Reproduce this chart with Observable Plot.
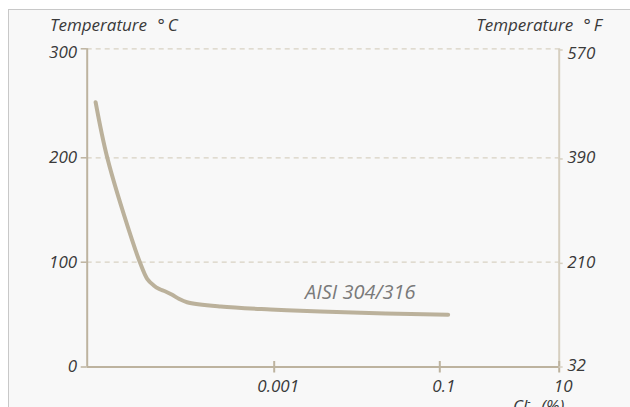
<!DOCTYPE html>
<html><head><meta charset="utf-8">
<script src="https://cdn.jsdelivr.net/npm/d3@7"></script>
<script src="https://cdn.jsdelivr.net/npm/@observablehq/plot@0.6"></script>
<style>
body{margin:0;background:#fff;}
#wrap{position:relative;width:630px;height:407px;overflow:hidden;}
#panel{position:absolute;left:8px;top:9px;width:700px;height:500px;border-left:1px solid #c8c8c8;border-top:1px solid #c8c8c8;background:#f8f8f8;}
#chart{position:absolute;left:0;top:0;}
.lbl{position:absolute;font-family:"Open Sans";font-style:italic;font-size:17px;color:#3a3a3a;white-space:nowrap;line-height:17px;word-spacing:6px;}
.lbl .deg{margin-right:3px;}
.lbl sup{font-size:11px;vertical-align:7px;}
</style></head><body>
<div id="wrap">
<div id="panel"></div>
<div id="chart"></div>
<div class="lbl" style="left:50px;top:16px;">Temperature <span class="deg">°</span>C</div>
<div class="lbl" style="right:28px;top:16px;">Temperature <span class="deg">°</span>F</div>
<div class="lbl" style="left:513px;top:392px;">Cl<sup>-</sup> (%)</div>
</div>
<script>
// Data
const clPct = [1.23e-5, 1.64e-5, 3.03e-5, 3.66e-5, 4.38e-5, 5.15e-5, 5.83e-5, 6.88e-5, 8.11e-5, 9.55e-5, 1.17e-4, 2.67e-4, 9.12e-4, 3.62e-3, 2.21e-2, 0.138];
const tempC = [251, 200, 120.8, 100, 84.2, 77.8, 74.6, 72, 68.9, 65.1, 61.8, 57.7, 54.9, 53, 51, 49.8];
const seriesName = "AISI 304/316";
const xDomain = [1e-5, 1e-3, 1e-1, 10];
const xTicks = [0.001, 0.1, 10];
const xTickLabels = ["0.001", "0.1", "10"];
const yTicksC = [0, 100, 200, 300];
const yGridC = [100, 200, 300];
const yTicksF = [32, 210, 390, 570];

const data = clPct.map((x, i) => ({x, y: tempC[i]}));
const fToC = f => (f - 32) * 5 / 9;
const fTicks = yTicksF.map(f => ({c: fToC(f), label: String(f)}));
const xTickData = xTicks.map((x, i) => ({x, label: xTickLabels[i]}));
const xMin = xDomain[0], xMax = xDomain[xDomain.length - 1];
const yTop = yTicksC[yTicksC.length - 1];

const axisColor = "#bdb39f";
const rightAxisColor = "#d6cfc0";
const gridColor = "#d8d1c2";
const lineColor = "#bbb19b";
const textColor = "#3a3a3a";
const font = {fontStyle: "italic", fontSize: 17, fill: textColor};

const chart = Plot.plot({
  width: 630,
  height: 407,
  margin: 0,
  style: {background: "transparent", fontFamily: "Open Sans", fontSize: "17px", color: textColor, overflow: "visible"},
  x: {type: "log", domain: xDomain, range: [86.7, 273.7, 439.3, 558.7], axis: null},
  y: {type: "linear", domain: [0, 100, 200, 300], range: [366.5, 261.7, 157.3, 48.3], axis: null},
  marks: [
    Plot.ruleY(yGridC, {x1: xMin, x2: xMax, stroke: gridColor, strokeWidth: 1.3, strokeDasharray: "5,4"}),
    Plot.ruleX([xMax], {y1: 0, y2: yTop, stroke: rightAxisColor, strokeWidth: 2}),
    Plot.ruleX([xMin], {y1: 0, y2: yTop, stroke: axisColor, strokeWidth: 2}),
    Plot.ruleY([0], {x1: xMin, x2: xMax, stroke: axisColor, strokeWidth: 2}),
    // x tick marks crossing the axis
    Plot.ruleX(xTicks, {y1: 0, y2: 0, insetTop: -5.5, insetBottom: -6, stroke: axisColor, strokeWidth: 2}),
    // left ticks (°C)
    Plot.ruleY(yTicksC, {x1: xMin, x2: xMin, insetLeft: -6, stroke: axisColor, strokeWidth: 1.5}),
    Plot.text(yTicksC.filter(d => d !== yTop), {x: xMin, y: d => d, text: d => String(d), textAnchor: "end", dx: -10, ...font}),
    Plot.text([yTop], {x: xMin, y: d => d, text: d => String(d), textAnchor: "end", dx: -10, dy: 4, ...font}),
    // right ticks (°F)
    Plot.ruleY(fTicks, {y: "c", x1: xMax, x2: xMax, insetRight: -4, stroke: rightAxisColor, strokeWidth: 1.5}),
    Plot.text(fTicks.slice(0, -1), {x: xMax, y: "c", text: "label", textAnchor: "start", dx: 8, dy: -1, ...font}),
    Plot.text(fTicks.slice(-1), {x: xMax, y: "c", text: "label", textAnchor: "start", dx: 8, dy: 4, ...font}),
    // x tick labels
    Plot.text(xTickData, {x: "x", y: 0, text: "label", dx: 4, dy: 20, ...font}),
    Plot.line(data, {x: "x", y: "y", stroke: lineColor, strokeWidth: 4, curve: "catmull-rom", strokeLinecap: "round", strokeLinejoin: "round"}),
    Plot.text([seriesName], {x: 0.0538, y: 71, text: d => d, textAnchor: "end", dx: -2, fontStyle: "italic", fontSize: 20, fill: "#7a7a7a"})
  ]
});
document.getElementById("chart").appendChild(chart);
</script>
</body></html>
